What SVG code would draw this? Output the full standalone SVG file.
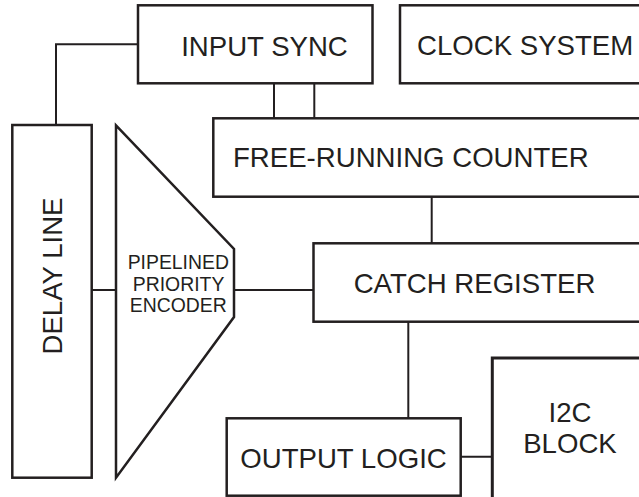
<svg xmlns="http://www.w3.org/2000/svg" width="639" height="497" viewBox="0 0 639 497">
  <style>
    .box { fill: #ffffff; stroke: #231f20; stroke-width: 2.5; }
    .wire { fill: none; stroke: #231f20; stroke-width: 2; }
    .lbl { font-family: "Liberation Sans", Arial, sans-serif; font-size: 27.6px; fill: #231f20; }
    .small { font-family: "Liberation Sans", Arial, sans-serif; font-size: 19.4px; fill: #231f20; text-anchor: middle; }
  </style>
  <rect width="639" height="497" fill="#ffffff"/>

  <!-- connectors -->
  <g id="connectors">
    <polyline class="wire" points="138,44.3 56,44.3 56,125"/>
    <line class="wire" x1="274" y1="83.3" x2="274" y2="118.3"/>
    <line class="wire" x1="314.3" y1="83.3" x2="314.3" y2="118.3"/>
    <line class="wire" x1="431.7" y1="196.7" x2="431.7" y2="243.3"/>
    <line class="wire" x1="91.7" y1="290" x2="116" y2="290"/>
    <line class="wire" x1="234" y1="290" x2="313.5" y2="290"/>
    <line class="wire" x1="408.3" y1="321.7" x2="408.3" y2="418.3"/>
    <line class="wire" x1="460.7" y1="456.7" x2="492.3" y2="456.7"/>
  </g>

  <g id="input-sync">
    <rect class="box" x="138" y="5.3" width="234.5" height="78"/>
    <text class="lbl" x="264.5" y="55.7" text-anchor="middle">INPUT SYNC</text>
  </g>

  <g id="clock-system">
    <rect class="box" x="400" y="5.3" width="260" height="78"/>
    <text class="lbl" x="417" y="55.3">CLOCK SYSTEM</text>
  </g>

  <g id="free-running-counter">
    <rect class="box" x="213.3" y="118.3" width="447" height="78.4"/>
    <text class="lbl" x="233" y="167">FREE-RUNNING COUNTER</text>
  </g>

  <g id="delay-line">
    <rect class="box" x="12.3" y="125" width="79.4" height="352.7"/>
    <text class="lbl" x="0" y="0" text-anchor="middle" transform="translate(62,276) rotate(-90)">DELAY LINE</text>
  </g>

  <g id="priority-encoder">
    <polygon class="box" points="116,125.3 234,249 234,317 116,477.7"/>
    <text class="small" x="178.3" y="269.3">PIPELINED</text>
    <text class="small" x="178.6" y="290.7">PRIORITY</text>
    <text class="small" x="178.3" y="311.7">ENCODER</text>
  </g>

  <g id="catch-register">
    <rect class="box" x="313.5" y="243.3" width="347" height="78.4"/>
    <text class="lbl" x="474.5" y="293.3" text-anchor="middle">CATCH REGISTER</text>
  </g>

  <g id="output-logic">
    <rect class="box" x="226.7" y="418.3" width="234" height="77.4"/>
    <text class="lbl" x="343.5" y="467.7" text-anchor="middle">OUTPUT LOGIC</text>
  </g>

  <g id="i2c-block">
    <rect class="box" x="492.3" y="358" width="170" height="160" style="stroke-width:3"/>
    <text class="lbl" x="570" y="422" text-anchor="middle">I2C</text>
    <text class="lbl" x="570" y="453" text-anchor="middle">BLOCK</text>
  </g>
</svg>
